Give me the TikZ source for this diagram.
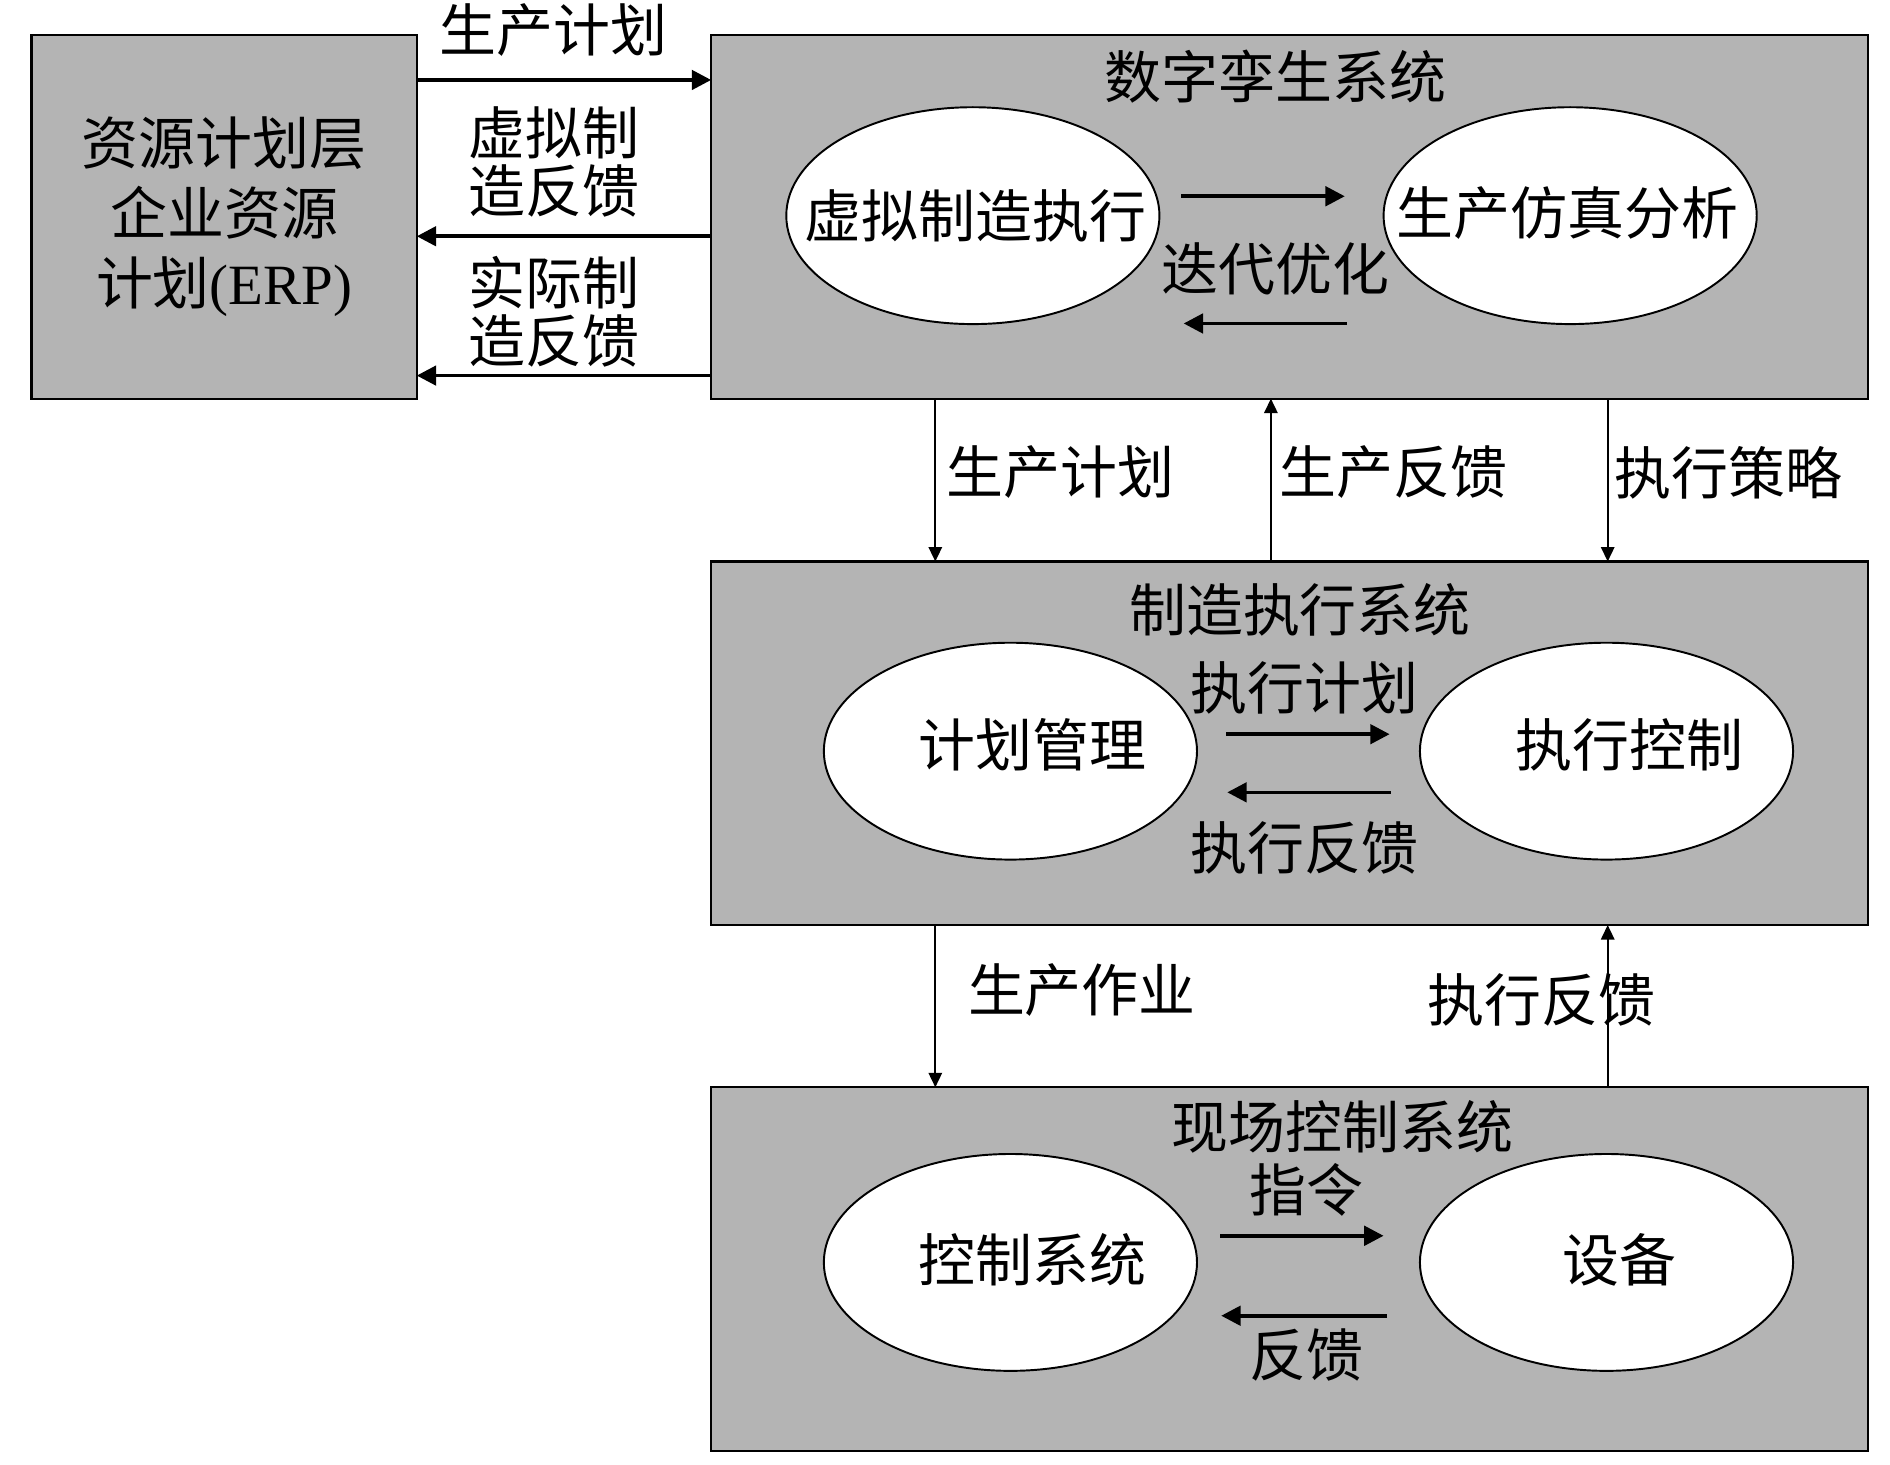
\documentclass[tikz,border=0pt]{standalone}
\usepackage{fontspec}
\setmainfont{Liberation Serif}
\newfontfamily\cjk{Noto Sans CJK SC}
\usetikzlibrary{arrows.meta,shapes.geometric}
\definecolor{boxgray}{RGB}{180,180,180}

\begin{document}
\begin{tikzpicture}
  [x=0.5pt,y=-0.5pt,
   every node/.style={font=\cjk\fontsize{23.5}{29}\selectfont,inner sep=0pt},
   layer/.style={rectangle,draw,line width=0.9pt,fill=boxgray,outer sep=0pt,
                 minimum width=477.5pt,minimum height=150pt},
   oval/.style={ellipse,draw,line width=0.8pt,fill=white,outer sep=0pt,
                minimum width=154pt,minimum height=89.5pt},
   arr/.style={-{Triangle[length=8pt,width=8pt]},line width=1.5pt},
   varr/.style={-{Triangle[length=6pt,width=5.5pt]},line width=0.9pt}]
  \useasboundingbox (0,0) rectangle (1560,1209);
  % Resource planning layer
  \node[layer,minimum width=159pt,align=center] (erp) at (185,179)
    {资源计划层\\企业资源\\计划{\rmfamily(ERP)}};
  % Digital twin system
  \node[layer] (twin) at (1064.5,179) {};
  \node (twintitle) at (1053,63) {数字孪生系统};
  \node[oval] (vsim) at (803,178) {};
  \node[oval] (sima) at (1296,178) {};
  \node (vsimtext) at (805,178) {虚拟制造执行};
  \node (simatext) at (1294,176) {生产仿真分析};
  \node (iter) at (1053,222) {迭代优化};
  % Manufacturing execution system
  \node[layer] (mes) at (1064.5,613.5) {};
  \node (mestitle) at (1073,503) {制造执行系统};
  \node[oval] (plan) at (834,620) {};
  \node[oval] (ctrl) at (1326,620) {};
  \node (plantext) at (852,615) {计划管理};
  \node (ctrltext) at (1345,615) {执行控制};
  \node (execplan) at (1077,568) {执行计划};
  \node (execfb) at (1077,700) {执行反馈};
  % Field control system
  \node[layer] (field) at (1064.5,1047.5) {};
  \node (fieldtitle) at (1108,930) {现场控制系统};
  \node[oval] (csys) at (834,1042) {};
  \node[oval] (dev) at (1326,1042) {};
  \node (csystext) at (852,1040) {控制系统};
  \node (devtext) at (1337,1040) {设备};
  \node (cmd) at (1078,982) {指令};
  \node (fb) at (1078,1118) {反馈};
  % Labels between layers
  \node (plan1) at (457,25) {生产计划};
  \node[align=center,font=\cjk\fontsize{23.5}{24}\selectfont] (vfb) at (457,134) {虚拟制\\造反馈};
  \node[align=center,font=\cjk\fontsize{23.5}{24}\selectfont] (rfb) at (457,257) {实际制\\造反馈};
  \node (plan2) at (875,390) {生产计划};
  \node (prodfb) at (1150,390) {生产反馈};
  \node (strat) at (1427,390) {执行策略};
  \node (job) at (893,817) {生产作业};
  \node (execfb2) at (1272,825) {执行反馈};

  \draw[arr] ([shift={(0,37)}]erp.north east) -- ([shift={(0,37)}]twin.north west);
  \draw[arr] ([shift={(0,166)}]twin.north west) -- ([shift={(0,166)}]erp.north east);
  \draw[arr] ([shift={(0,281)}]twin.north west) -- ([shift={(0,281)}]erp.north east);

  \draw[arr] ([shift={(18,-16)}]vsim.east) -- ([shift={(-32,-16)}]sima.west);
  \draw[arr] ([shift={(-30,89)}]sima.west) -- ([shift={(20,89)}]vsim.east);
  \draw[arr] ([shift={(24,-14)}]plan.east) -- ([shift={(-25,-14)}]ctrl.west);
  \draw[arr] ([shift={(-24,34)}]ctrl.west) -- ([shift={(25,34)}]plan.east);
  \draw[arr] ([shift={(19,-22)}]csys.east) -- ([shift={(-30,-22)}]dev.west);
  \draw[arr] ([shift={(-27,44)}]dev.west) -- ([shift={(20,44)}]csys.east);

  \draw[varr] ([shift={(185,0)}]twin.south west) -- ([shift={(185,0)}]mes.north west);
  \draw[varr] ([shift={(462,0)}]mes.north west) -- ([shift={(462,0)}]twin.south west);
  \draw[varr] ([shift={(740,0)}]twin.south west) -- ([shift={(740,0)}]mes.north west);
  \draw[varr] ([shift={(185,0)}]mes.south west) -- ([shift={(185,0)}]field.north west);
  \draw[varr] ([shift={(740,0)}]field.north west) -- ([shift={(740,0)}]mes.south west);
\end{tikzpicture}
\end{document}
